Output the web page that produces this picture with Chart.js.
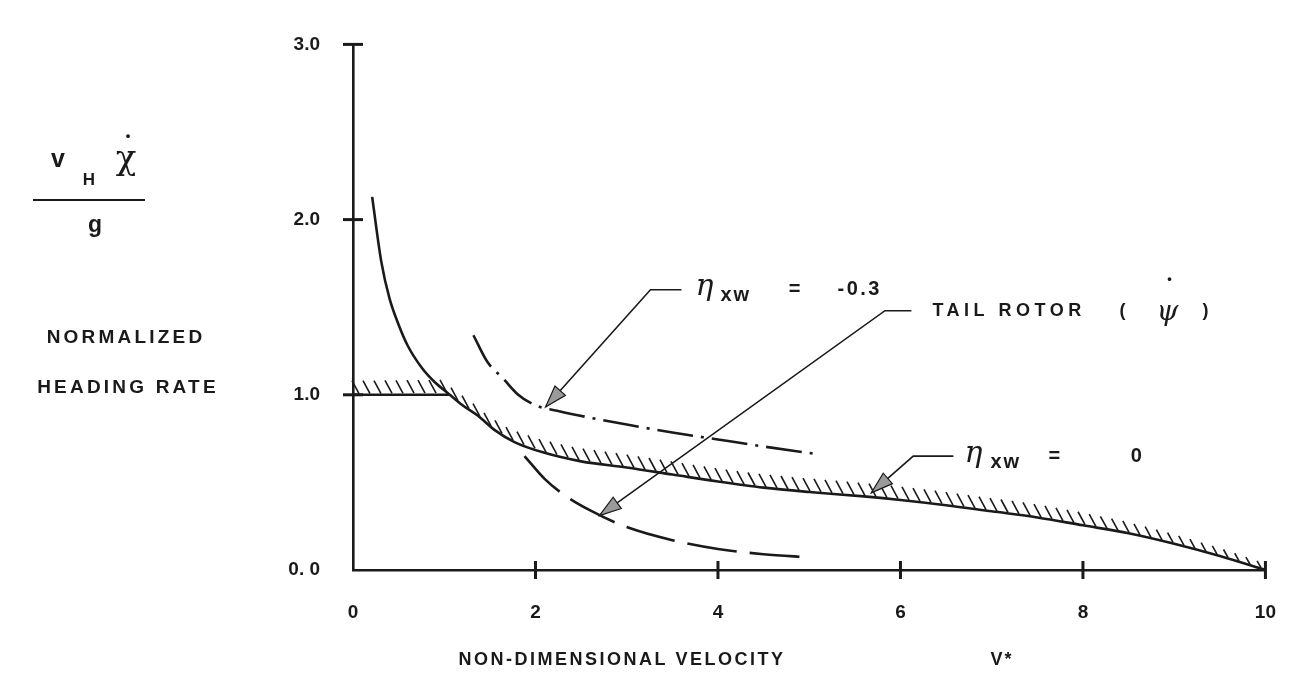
<!DOCTYPE html>
<html><head><meta charset="utf-8">
<script src="https://cdn.jsdelivr.net/npm/chart.js@4.4.1/dist/chart.umd.min.js"></script>
<style>html,body{margin:0;padding:0;background:#fff;overflow:hidden}canvas{display:block}</style>
</head><body>
<canvas id="c" width="1307" height="677"></canvas>
<script>
// ---- data ----
const xTicks = [0, 2, 4, 6, 8, 10];
const yTicks = [0, 1, 2, 3];
const yTickLabels = ['0. 0', '1.0', '2.0', '3.0'];

// eta_xw = 0 boundary (solid)
const solidX = [0.21,0.31,0.40,0.50,0.60,0.76,0.90,1.05,1.20,1.37,1.55,1.77,2.09,2.50,3.00,3.50,4.00,4.50,5.00,5.60,6.00,6.50,7.00,7.50,8.00,8.50,9.00,9.50,10.0];
const solidY = [2.13,1.76,1.55,1.40,1.28,1.15,1.07,1.005,0.94,0.88,0.80,0.73,0.67,0.62,0.585,0.545,0.505,0.47,0.445,0.42,0.40,0.37,0.335,0.30,0.255,0.21,0.15,0.08,0.00];
// plateau at 1.0
const plateauX = [0, 1.05];
const plateauY = [1.0, 1.0];
// hatched boundary
const hatchX = [0,1.05,1.20,1.37,1.55,1.77,2.09,2.50,3.00,3.50,4.00,4.50,5.00,5.60,6.00,6.50,7.00,7.50,8.00,8.50,9.00,9.50,10.0];
const hatchY = [1.0,1.005,0.94,0.88,0.80,0.73,0.67,0.62,0.585,0.545,0.505,0.47,0.445,0.42,0.40,0.37,0.335,0.30,0.255,0.21,0.15,0.08,0.00];
// eta_xw = -0.3 (dash-dot)
const dashDotX = [1.32,1.47,1.65,1.80,2.00,2.27,2.69,3.00,3.50,4.00,4.50,5.04];
const dashDotY = [1.34,1.19,1.09,1.005,0.94,0.905,0.86,0.83,0.785,0.745,0.705,0.665];
// tail rotor (long dash)
const tailX = [1.88,2.10,2.31,2.60,3.00,3.50,4.00,4.50,5.00];
const tailY = [0.65,0.52,0.43,0.34,0.245,0.17,0.12,0.09,0.072];
// leader lines: [horizontal end, corner, arrow tip]
const leaderEtaM03X = [3.60, 3.26, 2.11];
const leaderEtaM03Y = [1.60, 1.60, 0.93];
const leaderTailX = [6.12, 5.83, 2.70];
const leaderTailY = [1.48, 1.48, 0.31];
const leaderEta0X = [6.58, 6.14, 5.68];
const leaderEta0Y = [0.65, 0.65, 0.44];

const pts = (xs, ys) => xs.map((x, i) => ({x, y: ys[i]}));
const SANS = '"Liberation Sans", Arial, sans-serif';
const SERIF = '"DejaVu Serif", "Liberation Serif", serif';
const INK = '#1a1a1a';

const lineDs = (data, extra) => Object.assign({
  data, showLine: true, pointRadius: 0, borderColor: INK, borderWidth: 2.6,
  fill: false, cubicInterpolationMode: 'monotone'
}, extra || {});

function txt(ctx, s, x, y, font, align, ls) {
  ctx.save();
  ctx.font = font; ctx.fillStyle = INK;
  ctx.textAlign = align || 'left'; ctx.textBaseline = 'middle';
  if (ls) ctx.letterSpacing = ls + 'px';
  ctx.fillText(s, x, y);
  ctx.restore();
}

const decorPlugin = {
  id: 'decor',
  afterDatasetsDraw(chart) {
    const ctx = chart.ctx, xs = chart.scales.x, ys = chart.scales.y;
    const X = v => xs.getPixelForValue(v), Y = v => ys.getPixelForValue(v);
    // hatch marks
    const p = hatchX.map((x, i) => [X(x), Y(hatchY[i])]);
    ctx.save(); ctx.strokeStyle = INK; ctx.lineWidth = 1.6;
    const x8 = X(8);
    for (let px = p[0][0] + 6; px < p[p.length - 1][0] - 3; px += 11) {
      let j = 0; while (j < p.length - 2 && p[j + 1][0] < px) j++;
      const t = (px - p[j][0]) / (p[j + 1][0] - p[j][0]);
      const py = p[j][1] + t * (p[j + 1][1] - p[j][1]);
      const f = px > x8 ? 1 - 0.45 * (px - x8) / (p[p.length - 1][0] - x8) : 1;
      ctx.beginPath(); ctx.moveTo(px - 7 * f, py - 14 * f); ctx.lineTo(px, py - 1); ctx.stroke();
    }
    ctx.restore();
    // cross ticks on axes
    ctx.save(); ctx.strokeStyle = INK; ctx.lineWidth = 3;
    const ax = X(0), ay = Y(0);
    yTicks.forEach(v => { if (v === 0) return; ctx.beginPath(); ctx.moveTo(ax - 10, Y(v)); ctx.lineTo(ax + 10, Y(v)); ctx.stroke(); });
    xTicks.forEach(v => { if (v === 0) return; ctx.beginPath(); ctx.moveTo(X(v), ay - 9); ctx.lineTo(X(v), ay + 9); ctx.stroke(); });
    ctx.restore();
    // arrowheads
    const arrow = (lx, ly) => {
      const tx = X(lx[2]), ty = Y(ly[2]), cx = X(lx[1]), cy = Y(ly[1]);
      const a = Math.atan2(ty - cy, tx - cx), L = 22, W = 7;
      const bx = tx - L * Math.cos(a), by = ty - L * Math.sin(a);
      ctx.save(); ctx.beginPath();
      ctx.moveTo(tx, ty);
      ctx.lineTo(bx + W * Math.sin(a), by - W * Math.cos(a));
      ctx.lineTo(bx - W * Math.sin(a), by + W * Math.cos(a));
      ctx.closePath(); ctx.fillStyle = '#9a9a9a'; ctx.fill();
      ctx.strokeStyle = INK; ctx.lineWidth = 1.2; ctx.stroke(); ctx.restore();
    };
    arrow(leaderEtaM03X, leaderEtaM03Y);
    arrow(leaderTailX, leaderTailY);
    arrow(leaderEta0X, leaderEta0Y);

    // annotation labels
    const B18 = 'bold 18px ' + SANS, B20 = 'bold 20px ' + SANS;
    let lx = X(leaderEtaM03X[0]), ly = Y(leaderEtaM03Y[0]);
    txt(ctx, 'η', lx + 14, ly - 2, 'italic 30px ' + SERIF);
    txt(ctx, 'xw', lx + 39, ly + 6, B20, 'left', 2);
    txt(ctx, '=', lx + 113, ly, B20, 'center');
    txt(ctx, '-0.3', lx + 156, ly, B20, 'left', 2.5);

    lx = X(leaderTailX[0]); ly = Y(leaderTailY[0]);
    txt(ctx, 'TAIL ROTOR', lx + 21, ly, B18, 'left', 4.5);
    txt(ctx, '(', lx + 211, ly, B18, 'center');
    txt(ctx, 'ψ', lx + 256, ly + 2, 'italic 28px ' + SERIF, 'center');
    txt(ctx, '•', lx + 258, ly - 31, 'bold 13px ' + SANS, 'center');
    txt(ctx, ')', lx + 294, ly, B18, 'center');

    lx = X(leaderEta0X[0]); ly = Y(leaderEta0Y[0]);
    txt(ctx, 'η', lx + 11, ly - 2, 'italic 30px ' + SERIF);
    txt(ctx, 'xw', lx + 37, ly + 6, B20, 'left', 2);
    txt(ctx, '=', lx + 101, ly, B20, 'center');
    txt(ctx, '0', lx + 183, ly, B20, 'center');
  },
  afterDraw(chart) {
    const ctx = chart.ctx;
    // y-axis title (fraction)
    txt(ctx, 'v', 58, 160, 'bold 25px ' + SANS, 'center');
    txt(ctx, 'H', 89, 180, 'bold 17px ' + SANS, 'center');
    txt(ctx, 'χ', 126, 160, '34px ' + SERIF, 'center');
    txt(ctx, '•', 128, 136, 'bold 13px ' + SANS, 'center');
    ctx.save(); ctx.strokeStyle = INK; ctx.lineWidth = 2;
    ctx.beginPath(); ctx.moveTo(33, 200); ctx.lineTo(145, 200); ctx.stroke(); ctx.restore();
    txt(ctx, 'g', 95, 226, 'bold 23px ' + SANS, 'center');
    txt(ctx, 'NORMALIZED', 126, 338, 'bold 19px ' + SANS, 'center', 3.2);
    txt(ctx, 'HEADING RATE', 128, 388, 'bold 19px ' + SANS, 'center', 3.2);
    // x-axis title
    txt(ctx, 'NON-DIMENSIONAL VELOCITY', 622, 660, 'bold 18px ' + SANS, 'center', 2.5);
    txt(ctx, 'V*', 1002, 660, 'bold 18px ' + SANS, 'center', 2);
  }
};

new Chart(document.getElementById('c'), {
  type: 'scatter',
  data: {
    datasets: [
      lineDs(pts(solidX, solidY)),
      lineDs(pts(plateauX, plateauY), {cubicInterpolationMode: 'default', tension: 0}),
      lineDs(pts(dashDotX, dashDotY), {borderDash: [36, 8, 3, 8]}),
      lineDs(pts(tailX, tailY), {borderDash: [50, 13]}),
      lineDs(pts(leaderEtaM03X, leaderEtaM03Y), {borderWidth: 1.6, cubicInterpolationMode: 'default', tension: 0}),
      lineDs(pts(leaderTailX, leaderTailY), {borderWidth: 1.6, cubicInterpolationMode: 'default', tension: 0}),
      lineDs(pts(leaderEta0X, leaderEta0Y), {borderWidth: 1.6, cubicInterpolationMode: 'default', tension: 0})
    ]
  },
  options: {
    responsive: false, animation: false, devicePixelRatio: 1,
    layout: {padding: {top: 23, right: 25, left: 0, bottom: 0}},
    plugins: {legend: {display: false}, tooltip: {enabled: false}},
    scales: {
      x: {
        type: 'linear', min: 0, max: 10,
        afterFit(s) { s.height = 107; },
        afterBuildTicks(s) { s.ticks = xTicks.map(v => ({value: v})); },
        ticks: {font: {family: SANS, size: 19, weight: 'bold'}, color: INK, padding: 31, maxRotation: 0, autoSkip: false},
        grid: {display: false, drawTicks: false},
        border: {display: true, color: INK, width: 2.6}
      },
      y: {
        type: 'linear', min: 0, max: 3,
        afterFit(s) { s.width = 353; },
        afterBuildTicks(s) { s.ticks = yTicks.map(v => ({value: v})); },
        ticks: {font: {family: SANS, size: 19, weight: 'bold'}, color: INK, padding: 33,
          callback: (v) => yTickLabels[yTicks.indexOf(v)]},
        grid: {display: false, drawTicks: false},
        border: {display: true, color: INK, width: 2.6}
      }
    }
  },
  plugins: [decorPlugin]
});
</script>
</body></html>
